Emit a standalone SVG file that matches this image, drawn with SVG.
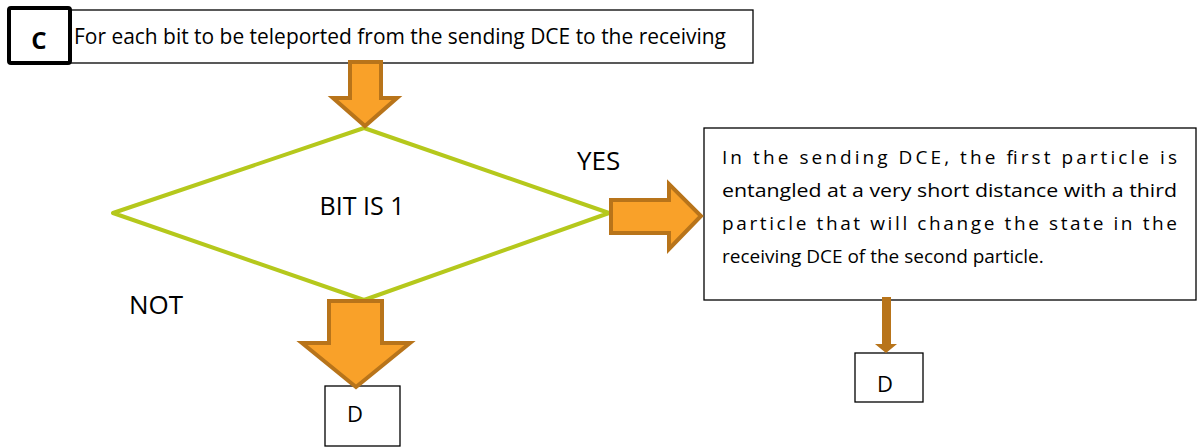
<svg xmlns="http://www.w3.org/2000/svg" width="1197" height="448" viewBox="0 0 1197 448">
<style>
.box{fill:#fff;stroke:#000;stroke-width:1.3}
.t{font-family:"Open Sans","Liberation Sans",sans-serif;fill:#000}
.big{fill:#f9a129;stroke:#b8741a;stroke-width:4;stroke-linejoin:miter}
</style>
<rect width="1197" height="448" fill="#fff"/>
<g id="header">
<rect class="box" x="70" y="10" width="683" height="53"/>
<text class="t" x="74" y="44" font-size="21" textLength="652" lengthAdjust="spacingAndGlyphs">For each bit to be teleported from the sending DCE to the receiving</text>
</g>
<g id="label-c">
<rect x="9" y="8" width="61" height="55" rx="2" fill="#fff" stroke="#000" stroke-width="4"/>
<text class="t" x="39" y="49" font-size="24" font-weight="bold" text-anchor="middle">C</text>
</g>
<g id="decision">
<polygon points="364,128 609,213 364,300 113,213" fill="#fff" stroke="#b5c81c" stroke-width="4" stroke-linejoin="round"/>
<text class="t" x="362" y="215" font-size="25" text-anchor="middle">BIT IS 1</text>
</g>
<g id="process">
<rect class="box" x="704" y="128" width="492" height="172"/>
<text class="t" font-size="19">
<tspan x="722" y="164" textLength="455" lengthAdjust="spacing">In the sending DCE, the first particle is</tspan>
<tspan x="722" y="197" textLength="455" lengthAdjust="spacingAndGlyphs">entangled at a very short distance with a third</tspan>
<tspan x="722" y="230" textLength="455" lengthAdjust="spacing">particle that will change the state in the</tspan>
<tspan x="722" y="263">receiving DCE of the second particle.</tspan>
</text>
</g>
<g id="d-left">
<rect class="box" x="325" y="386" width="75" height="60"/>
<text class="t" x="355" y="422" font-size="22" text-anchor="middle">D</text>
</g>
<g id="d-right">
<rect class="box" x="855" y="353" width="68" height="49"/>
<text class="t" x="885" y="392" font-size="22" text-anchor="middle">D</text>
</g>
<g id="connectors">
<polygon class="big" points="350,62 381,62 381,98 397,98 365,126 333,98 350,98"/>
<polygon class="big" points="611,200 669,200 669,184 701,216 669,249 669,233 611,233"/>
<polygon class="big" points="329,301 382,301 382,343 410,343 356,387 302,343 329,343"/>
<polygon points="882,297 891,297 891,344 897,344 886,353 875,344 882,344" fill="#b8741a"/>
<text class="t" x="577" y="170" font-size="26">YES</text>
<text class="t" x="129" y="314" font-size="26">NOT</text>
</g>
</svg>
